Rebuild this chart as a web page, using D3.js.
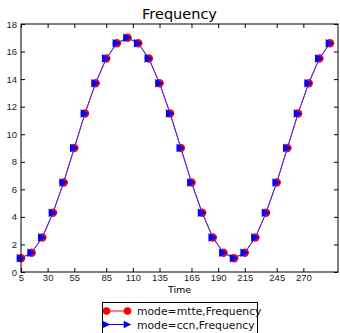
<!DOCTYPE html>
<html>
<head>
<meta charset="utf-8">
<script src="https://cdn.jsdelivr.net/npm/d3@7"></script>
<style>
  body { margin: 0; background: #fff; }
  svg { display: block; font-family: "DejaVu Sans", sans-serif; }
  .tick text { font-size: 9.5px; fill: #222; }
</style>
</head>
<body>
<div id="chart"></div>
<script>
const times= [5, 15, 25, 35, 45, 55, 65, 75, 85, 95, 105, 115, 125, 135, 145,
  155, 165, 175, 185, 195, 205, 215, 225, 235, 245, 255, 265, 275, 285, 295];
const mtte= [1, 1.4, 2.5, 4.3, 6.5, 9, 11.5, 13.7, 15.5, 16.6, 17, 16.6, 15.5, 13.7, 11.5,
  9, 6.5, 4.3, 2.5, 1.4, 1, 1.4, 2.5, 4.3, 6.5, 9, 11.5, 13.7, 15.5, 16.6];
const ccn= mtte.slice();
const xTickVals= [5, 30, 55, 85, 110, 135, 165, 190, 215, 245, 270];
const yTickVals= [0, 2, 4, 6, 8, 10, 12, 14, 16, 18];
const seriesNames= ['mode=mtte,Frequency', 'mode=ccn,Frequency'];

const W= 340, H= 333;
const MAR= { top: 24, right: 2, bottom: 61, left: 21 };
const iW= W-MAR.left-MAR.right;
const iH= H-MAR.top-MAR.bottom;

const svg= d3.select('#chart').append('svg')
  .attr('width', W).attr('height', H);

const xSc= d3.scaleLinear().domain([5, 302.5]).range([0, iW]);
const ySc= d3.scaleLinear().domain([0, 18]).range([iH, 0]);
const g= svg.append('g').attr('transform', `translate(${MAR.left},${MAR.top})`);

const lineGen= vals => d3.line()
  .x((d, i) => xSc(times[i]))
  .y(d => ySc(d))(vals);

const triPath= s => `M${-s},${-s} L${s},0 L${-s},${s} Z`;

// red series
g.append('path').attr('d', lineGen(mtte))
  .attr('fill', 'none').attr('stroke', '#ff0000').attr('stroke-width', 1);
g.selectAll(null).data(mtte).join('circle')
  .attr('cx', (d, i) => xSc(times[i]))
  .attr('cy', d => ySc(d))
  .attr('r', 4.2)
  .attr('fill', '#ff0000');

// blue series
g.append('path').attr('d', lineGen(ccn))
  .attr('fill', 'none').attr('stroke', '#3333ff').attr('stroke-width', 1);
g.selectAll(null).data(ccn).join('path')
  .attr('transform', (d, i) => `translate(${xSc(times[i])},${ySc(d)})`)
  .attr('d', triPath(4.3))
  .attr('fill', '#0000ff');

// axes, ticks inside, matplotlib classic
g.append('g').attr('transform', `translate(0,${iH})`)
  .call(d3.axisBottom(xSc).tickValues(xTickVals).tickSizeInner(-4).tickSizeOuter(0).tickPadding(2))
  .call(a => a.select('.domain').remove());
g.append('g').call(d3.axisTop(xSc).tickValues(xTickVals).tickSizeInner(-4).tickSizeOuter(0).tickFormat(''))
  .call(a => a.select('.domain').remove());
g.append('g')
  .call(d3.axisLeft(ySc).tickValues(yTickVals).tickSizeInner(-4).tickSizeOuter(0).tickPadding(4))
  .call(a => a.select('.domain').remove());
g.append('g').attr('transform', `translate(${iW},0)`)
  .call(d3.axisRight(ySc).tickValues(yTickVals).tickSizeInner(-4).tickSizeOuter(0).tickFormat(''))
  .call(a => a.select('.domain').remove());

g.append('rect').attr('width', iW).attr('height', iH)
  .attr('fill', 'none').attr('stroke', '#000').attr('stroke-width', 1);

svg.append('text')
  .attr('x', MAR.left+iW/2).attr('y', 19)
  .attr('text-anchor', 'middle')
  .attr('font-size', 14.5)
  .text('Frequency');

svg.append('text')
  .attr('x', MAR.left+iW/2).attr('y', 293)
  .attr('text-anchor', 'middle')
  .attr('font-size', 9.5)
  .text('Time');

// legend
const lg= svg.append('g').attr('transform', 'translate(102.5,302.5)');
lg.append('rect').attr('width', 155).attr('height', 34)
  .attr('fill', '#fff').attr('stroke', '#000').attr('stroke-width', 1);
seriesNames.forEach((name, i) => {
  const ly= 8.5+i*13.5;
  const color= i === 0 ? '#ff0000' : '#0000ff';
  lg.append('line').attr('x1', 4).attr('x2', 25).attr('y1', ly).attr('y2', ly)
    .attr('stroke', color).attr('stroke-width', 1);
  [4, 25].forEach(x => {
    if (i === 0) lg.append('circle').attr('cx', x).attr('cy', ly).attr('r', 3.8).attr('fill', color);
    else lg.append('path').attr('transform', `translate(${x},${ly})`).attr('d', triPath(3.8)).attr('fill', color);
  });
  lg.append('text').attr('x', 34.5).attr('y', ly+4)
    .attr('font-size', 10.8).attr('fill', '#111')
    .text(name);
});
</script>
</body>
</html>
